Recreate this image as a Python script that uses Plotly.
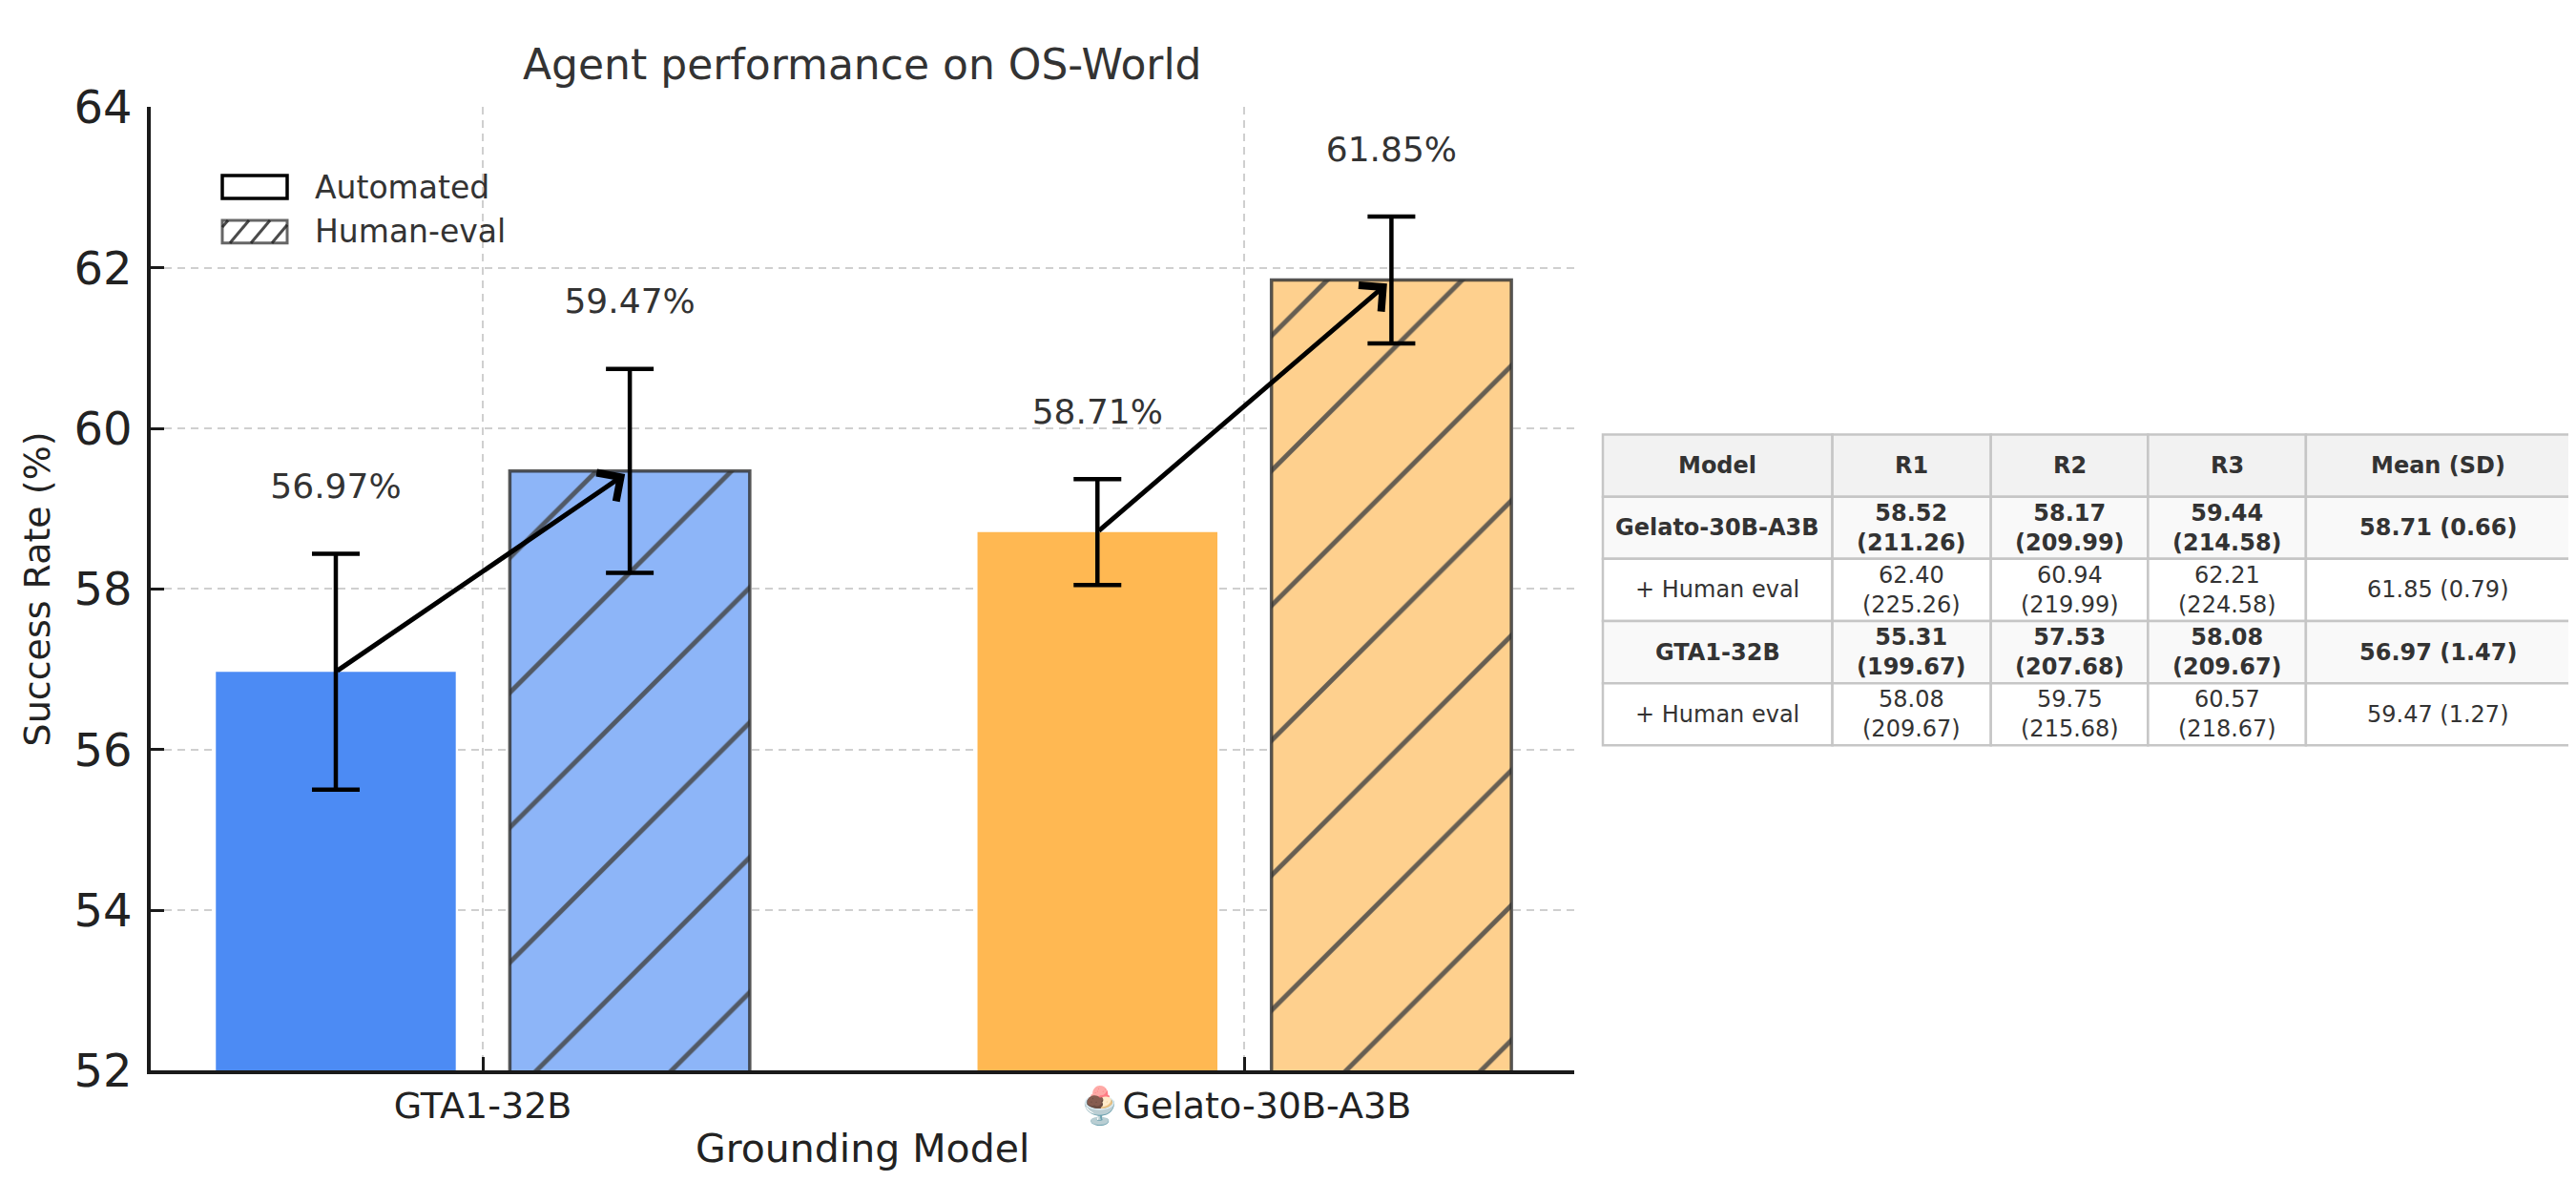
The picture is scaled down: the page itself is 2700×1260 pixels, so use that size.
import plotly.graph_objects as go

# ---------------- data ----------------
categories = ["GTA1-32B", "Gelato-30B-A3B"]
tick_labels = ["GTA1-32B", "🍨Gelato-30B-A3B"]
auto_mean = [56.97, 58.71]
auto_sd = [1.47, 0.66]
human_mean = [59.47, 61.85]
human_sd = [1.27, 0.79]

table_header = ["Model", "R1", "R2", "R3", "Mean (SD)"]
table_model = ["Gelato-30B-A3B", "+ Human eval", "GTA1-32B", "+ Human eval"]
table_bold = [True, False, True, False]
r1_val = [58.52, 62.40, 55.31, 58.08]
r1_cnt = [211.26, 225.26, 199.67, 209.67]
r2_val = [58.17, 60.94, 57.53, 59.75]
r2_cnt = [209.99, 219.99, 207.68, 215.68]
r3_val = [59.44, 62.21, 58.08, 60.57]
r3_cnt = [214.58, 224.58, 209.67, 218.67]
mean_val = [58.71, 61.85, 56.97, 59.47]
sd_val = [0.66, 0.79, 1.47, 1.27]

# ---------------- style / layout constants ----------------
W, H = 2700, 1260
FONT = "DejaVu Sans"
TXT = "#333333"
auto_colors = ["#4C8BF4", "#FFB852"]
human_colors = ["#8DB5F8", "#FED08E"]
BAR_W = 0.315
OFF = 0.193
LABEL_PAD = 0.8

PLOT_X0, PLOT_X1 = 150, 1642
PLOT_Y0, PLOT_Y1 = 80, 1137


def px(x):
    return x / W


def py(y):
    return 1 - y / H


fig = go.Figure()

x_auto = [i - OFF for i in range(len(categories))]
x_human = [i + OFF for i in range(len(categories))]

fig.add_trace(go.Bar(
    x=x_auto, y=auto_mean, width=BAR_W, name="Automated",
    marker=dict(color=auto_colors, line=dict(width=0)),
    error_y=dict(type="data", array=auto_sd, color="black", thickness=4.5, width=25),
    showlegend=False, hoverinfo="skip",
))
fig.add_trace(go.Bar(
    x=x_human, y=human_mean, width=BAR_W, name="Human-eval",
    marker=dict(
        color=human_colors,
        line=dict(width=3.5, color="rgba(45,45,45,0.8)"),
        pattern=dict(shape="/", size=100, solidity=0.05,
                     bgcolor=human_colors, fgcolor="#262626", fgopacity=0.82),
    ),
    error_y=dict(type="data", array=human_sd, color="black", thickness=4.5, width=25),
    showlegend=False, hoverinfo="skip",
))

# value labels
lab_x = x_auto + x_human
lab_y = [m + s + LABEL_PAD for m, s in zip(auto_mean + human_mean, auto_sd + human_sd)]
lab_t = [f"{v:.2f}%" for v in auto_mean + human_mean]
fig.add_trace(go.Scatter(
    x=lab_x, y=lab_y, text=lab_t, mode="text", textposition="middle center",
    textfont=dict(size=36, color=TXT, family=FONT), showlegend=False, hoverinfo="skip",
))

annotations = []
shapes = []

# arrows automated -> human
for xa, ma, xh, mh in zip(x_auto, auto_mean, x_human, human_mean):
    annotations.append(dict(
        x=xh, y=mh, ax=xa, ay=ma, xref="x", yref="y", axref="x", ayref="y",
        text="", showarrow=True, arrowhead=4, arrowsize=1.4, arrowwidth=5,
        arrowcolor="black", standoff=6,
    ))

# title and axis titles
annotations.append(dict(text="Agent performance on OS-World", x=px((PLOT_X0 + PLOT_X1) / 2), y=py(33),
                        xref="paper", yref="paper", showarrow=False, xanchor="center", yanchor="middle",
                        font=dict(size=44, color=TXT, family=FONT)))
annotations.append(dict(text="Grounding Model", x=px((PLOT_X0 + PLOT_X1) / 2), y=py(1222),
                        xref="paper", yref="paper", showarrow=False, xanchor="center", yanchor="middle",
                        font=dict(size=41, color="#222222", family=FONT)))
annotations.append(dict(text="Success Rate (%)", x=px(31), y=py((PLOT_Y0 + PLOT_Y1) / 2), textangle=-90,
                        xref="paper", yref="paper", showarrow=False, xanchor="center", yanchor="middle",
                        font=dict(size=38, color="#222222", family=FONT)))

# legend (drawn manually to match box size)
leg_x0, leg_x1 = 225, 293
leg_rows = [(155, 180), (204, 229)]
leg_names = ["Automated", "Human-eval"]
shapes.append(dict(type="rect", xref="paper", yref="paper", x0=px(leg_x0), x1=px(leg_x1),
                   y0=py(leg_rows[0][1]), y1=py(leg_rows[0][0]), line=dict(color="black", width=3.5),
                   fillcolor="white"))
shapes.append(dict(type="rect", xref="paper", yref="paper", x0=px(leg_x0), x1=px(leg_x1),
                   y0=py(leg_rows[1][1]), y1=py(leg_rows[1][0]), line=dict(color="#666666", width=3),
                   fillcolor="white"))
# hatch inside legend box
hy0, hy1 = leg_rows[1]
slant = 20
for b in range(leg_x0 - slant + 6, leg_x1 + 2, 22):
    xb, yb = b, hy1
    xt, yt = b + slant, hy0
    if xb < leg_x0:
        t = (leg_x0 - xb) / slant
        yb = hy1 - t * (hy1 - hy0)
        xb = leg_x0
    if xt > leg_x1:
        t = (xt - leg_x1) / slant
        yt = hy0 + t * (hy1 - hy0)
        xt = leg_x1
    if xt <= xb:
        continue
    shapes.append(dict(type="line", xref="paper", yref="paper", x0=px(xb), y0=py(yb), x1=px(xt), y1=py(yt),
                       line=dict(color="rgba(30,30,30,0.8)", width=3)))
for (ya, yb_), name in zip(leg_rows, leg_names):
    annotations.append(dict(text=name, x=px(320), y=py((ya + yb_) / 2), xref="paper", yref="paper",
                            showarrow=False, xanchor="left", yanchor="middle",
                            font=dict(size=33, color=TXT, family=FONT)))

# table (cells built from the data arrays)
tab_x0 = 1672
col_w = [240.6, 166.1, 164.7, 165.5, 277.9]
tab_y0 = 439
row_h = 68.2
HEADER_FILL = "#F2F2F2"
BOLD_FILL = "#F9F9F9"
PLAIN_FILL = "#FFFFFF"
GRID = "#C6C6C6"


def fmt_cell(v, c):
    return f"{v:.2f}<br>({c:.2f})"


rows = []
for i in range(len(table_model)):
    rows.append([
        table_model[i],
        fmt_cell(r1_val[i], r1_cnt[i]),
        fmt_cell(r2_val[i], r2_cnt[i]),
        fmt_cell(r3_val[i], r3_cnt[i]),
        f"{mean_val[i]:.2f} ({sd_val[i]:.2f})",
    ])

all_rows = [table_header] + rows
row_bold = [True] + table_bold
for r, cells in enumerate(all_rows):
    y_top = tab_y0 + r * row_h
    y_bot = y_top + row_h
    fill = HEADER_FILL if r == 0 else (BOLD_FILL if row_bold[r] else PLAIN_FILL)
    xc = tab_x0
    for c, txt in enumerate(cells):
        x_l, x_r = xc, xc + col_w[c]
        shapes.append(dict(type="rect", xref="paper", yref="paper", x0=px(x_l), x1=px(x_r),
                           y0=py(y_bot), y1=py(y_top), fillcolor=fill, line=dict(color=GRID, width=2.5),
                           layer="above"))
        t = f"<b>{txt}</b>" if row_bold[r] else txt
        annotations.append(dict(text=t, x=px((x_l + x_r) / 2), y=py((y_top + y_bot) / 2),
                                xref="paper", yref="paper", showarrow=False, xanchor="center",
                                yanchor="middle", align="center",
                                font=dict(size=24, color=TXT, family=FONT)))
        xc = x_r

grid_style = dict(showgrid=True, gridcolor="#CFCFCF", gridwidth=2, griddash="8px,6px")

fig.update_layout(
    width=W, height=H,
    margin=dict(l=0, r=0, t=0, b=0),
    paper_bgcolor="white", plot_bgcolor="white",
    font=dict(family=FONT, color="#222222"),
    showlegend=False,
    barmode="overlay",
    xaxis=dict(
        domain=[px(PLOT_X0), px(PLOT_X1)], range=[-0.436, 1.433],
        tickmode="array", tickvals=list(range(len(categories))), ticktext=tick_labels,
        tickfont=dict(size=38, color="#222222", family=FONT),
        ticks="inside", ticklen=14, tickwidth=3, tickcolor="#1a1a1a",
        showline=True, linecolor="#1a1a1a", linewidth=4, zeroline=False,
        layer="above traces", **grid_style,
    ),
    yaxis=dict(
        domain=[py(PLOT_Y1), py(PLOT_Y0)], range=[52, 64], tickmode="linear", tick0=52, dtick=2,
        tickfont=dict(size=48, color="#222222", family=FONT),
        ticks="inside", ticklen=14, tickwidth=3, tickcolor="#1a1a1a", ticklabelstandoff=6,
        showline=True, linecolor="#1a1a1a", linewidth=3.5, zeroline=False,
        layer="above traces", **grid_style,
    ),
    shapes=shapes,
    annotations=annotations,
)

fig.write_html("out.html")
